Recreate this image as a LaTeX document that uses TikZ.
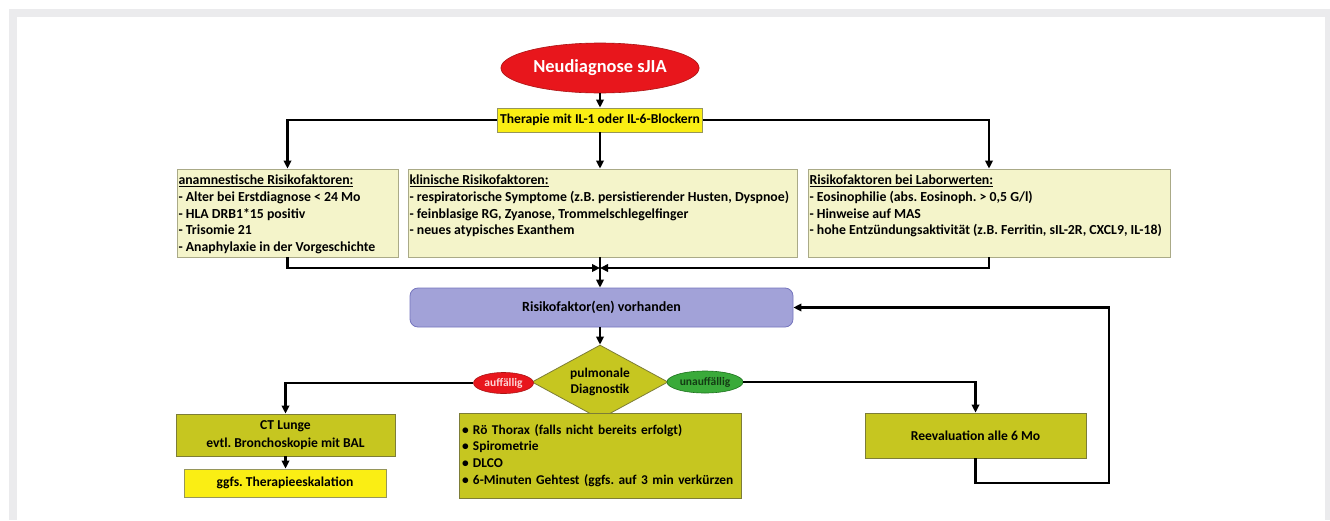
\documentclass[tikz,border=0pt]{standalone}
\usepackage{fontspec}
\setmainfont{Carlito}
\usetikzlibrary{shapes.geometric,arrows.meta}

\definecolor{framegray}{RGB}{235,235,237}
\definecolor{startred}{RGB}{232,22,28}
\definecolor{startline}{RGB}{170,20,20}
\definecolor{yfill}{RGB}{250,238,20}
\definecolor{yline}{RGB}{150,150,90}
\definecolor{factfill}{RGB}{244,244,202}
\definecolor{factline}{RGB}{170,170,135}
\definecolor{riskfill}{RGB}{162,162,216}
\definecolor{riskline}{RGB}{118,118,190}
\definecolor{ofill}{RGB}{198,198,32}
\definecolor{oline}{RGB}{125,125,55}
\definecolor{okgreen}{RGB}{58,170,58}
\definecolor{okline}{RGB}{30,115,30}
\definecolor{oktext}{RGB}{20,60,20}
\definecolor{badtext}{RGB}{252,215,215}

% pale box text, top aligned
\newcommand{\factlist}[2]{\parbox[c][80pt][t]{#1}{\vspace*{2pt}\raggedright\fontsize{13.8}{16.7}\selectfont #2}}

\begin{document}
\frenchspacing
\begin{tikzpicture}
  [ x=1pt, y=-1pt,
    ybox/.style={draw=yline, fill=yfill, line width=0.8pt, inner sep=2pt,
    font=\fontsize{13.6}{16.7}\selectfont\bfseries},
    obox/.style={draw=oline, fill=ofill, line width=0.8pt, inner sep=3pt, align=center,
    font=\fontsize{13.6}{17.5}\selectfont\bfseries},
    fact/.style={draw=factline, fill=factfill, line width=0.8pt, inner xsep=1.5pt,
    inner ysep=4pt, font=\bfseries},
    tag/.style={ellipse, inner sep=0pt, line width=0.6pt, font=\fontsize{11.5}{13}\selectfont\bfseries},
    ln/.style={draw=black, line width=2.2pt},
    fl/.style={ln, -{Triangle[length=8pt,width=7.5pt]}}
  ]
  \useasboundingbox (0,0) rectangle (1330,520);
  \fill [framegray] (9,9) rectangle (1330,520);
  \fill [white] (17,17) rectangle (1325,520);

  \node (start) at (600,68) [ellipse, draw=startline, fill=startred, line width=0.6pt,
    minimum width=196pt, minimum height=50pt, text=white,
    font=\fontsize{18.4}{21}\selectfont\bfseries] {Neudiagnose sJIA};
  \node (ther) at (600,120) [ybox, minimum width=205pt, minimum height=24pt]
    {Therapie mit IL-1 oder IL-6-Blockern};

  \node (anam) at (287.5,213) [fact] {\factlist{218pt}{\underline{anamnestische Risikofaktoren:}\\
    - Alter bei Erstdiagnose < 24 Mo\\
    - HLA DRB1*15 positiv\\
    - Trisomie 21\\
    - Anaphylaxie in der Vorgeschichte}};
  \node (klin) at (602.5,213) [fact] {\factlist{386pt}{\underline{klinische Risikofaktoren:}\\
    - respiratorische Symptome (z.B. persistierender Husten, Dyspnoe)\\
    - feinblasige RG, Zyanose, Trommelschlegelfinger\\
    - neues atypisches Exanthem}};
  \node (labor) at (989,213) [fact] {\factlist{359pt}{\underline{Risikofaktoren bei Laborwerten:}\\
    - Eosinophilie (abs. Eosinoph. > 0,5 G/l)\\
    - Hinweise auf MAS\\
    - hohe Entzündungsaktivität (z.B. Ferritin, sIL-2R, CXCL9, IL-18)}};
  \coordinate (mrg) at (600,268);

  \node (risk) at (601.5,307.5) [draw=riskline, fill=riskfill, line width=0.8pt, rounded corners=8pt,
    minimum width=383pt, minimum height=39pt, font=\fontsize{14}{16}\selectfont\bfseries]
    {Risikofaktor(en) vorhanden};

  \node (diag) at (600,382) [diamond, aspect=1.84, draw=oline, fill=ofill, line width=0.8pt,
    inner sep=0pt, minimum width=136pt, minimum height=74pt, align=center,
    font=\fontsize{13.4}{16.5}\selectfont\bfseries] {pulmonale\\Diagnostik};
  \node (auff) at (503.5,383) [tag, draw=startline, fill=startred, text=badtext,
    minimum width=60pt, minimum height=21pt] {auffällig};
  \node (unauff) at (705,382) [tag, draw=okline, fill=okgreen, text=oktext,
    minimum width=76pt, minimum height=22pt] {unauffällig};

  \node (ct) at (285.5,435) [obox, minimum width=219pt, minimum height=42pt]
    {CT Lunge\\evtl. Bronchoskopie mit BAL};
  \node (esc) at (285,483) [ybox, minimum width=202pt, minimum height=28pt]
    {ggfs. Therapieeskalation};
  \node (tests) at (600,455.5) [obox, text width=276pt, minimum height=85pt, align=left,
    font=\fontsize{13.4}{16.7}\selectfont\bfseries]
    {\makebox[11pt][l]{•}Rö Thorax (falls nicht bereits erfolgt)\\
     \makebox[11pt][l]{•}Spirometrie\\
     \makebox[11pt][l]{•}DLCO\\
     \makebox[11pt][l]{•}6-Minuten Gehtest (ggfs. auf 3 min verkürzen};
  \node (reeval) at (975.5,435.5) [obox, minimum width=221pt, minimum height=45pt]
    {Reevaluation alle 6 Mo};
  \coordinate (back) at (1109,483);

  \draw [fl] (start) -- (ther);
  \draw [fl] (ther) -- (ther |- klin.north);
  \draw [fl] (ther.west) -| (anam.north);
  \draw [fl] (ther.east) -| (labor.north);
  \draw [fl] (anam.south) |- (mrg);
  \draw [fl] (labor.south) |- (mrg);
  \draw [ln] (klin.south -| mrg) -- (mrg);
  \draw [fl] (mrg) -- (mrg |- risk.north);
  \draw [fl] (risk.south -| diag.north) -- (diag.north);
  \draw [fl] (auff.west) -| (ct.north);
  \draw [fl] (unauff.east) -| (reeval.north);
  \draw [fl] (ct.south) -- (ct.south |- esc.north);
  \draw [fl] (reeval.south) |- (back) |- (risk.east);
\end{tikzpicture}
\end{document}
